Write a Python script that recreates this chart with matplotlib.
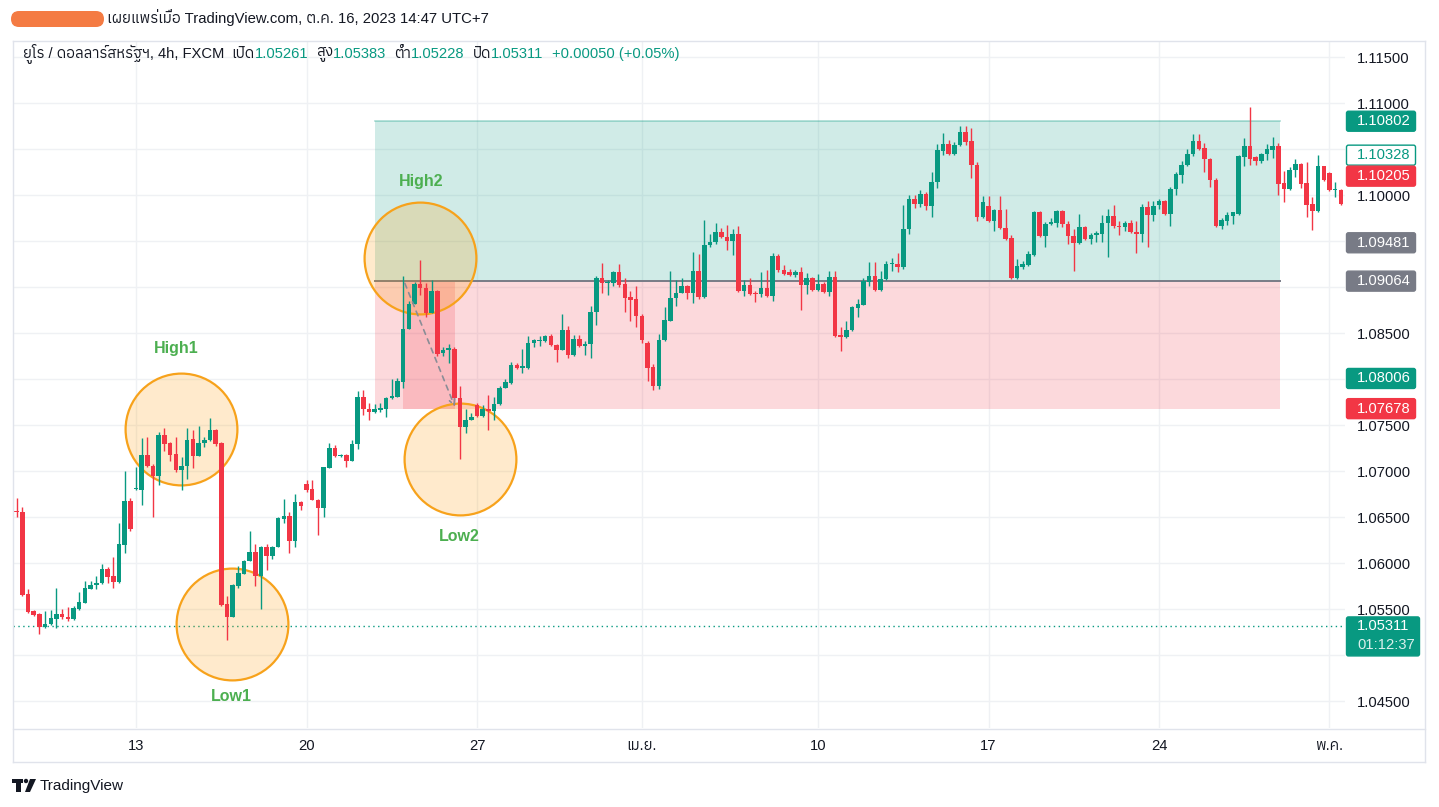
import numpy as np
import matplotlib
matplotlib.use("Agg")
import matplotlib.pyplot as plt
from matplotlib import font_manager as fm
from matplotlib.ft2font import FT2Font
from matplotlib.patches import Rectangle, FancyBboxPatch, Polygon, Circle
from matplotlib.transforms import IdentityTransform
from matplotlib.lines import Line2D

# ---------------- data (EUR/USD 4h, FXCM) ----------------
opens = [1.0656, 1.0656, 1.0566, 1.0548, 1.0545, 1.0530, 1.0534, 1.0539, 1.0545, 1.0541,
         1.0539, 1.0550, 1.0557, 1.0572, 1.0576, 1.0578, 1.0593, 1.0586, 1.0579, 1.0620,
         1.0667, 1.0680, 1.0679, 1.0717, 1.0706, 1.0695, 1.0739, 1.0730, 1.0718, 1.0701,
         1.0705, 1.0735, 1.0716, 1.0731, 1.0734, 1.0745, 1.0730, 1.0555, 1.0541, 1.0575,
         1.0588, 1.0602, 1.0612, 1.0586, 1.0617, 1.0608, 1.0617, 1.0648, 1.0651, 1.0624,
         1.0666, 1.0686, 1.0680, 1.0669, 1.0660, 1.0703, 1.0725, 1.0716, 1.0717, 1.0711,
         1.0729, 1.0781, 1.0767, 1.0764, 1.0766, 1.0767, 1.0779, 1.0781, 1.0797, 1.0854,
         1.0882, 1.0903, 1.0899, 1.0872, 1.0896, 1.0828, 1.0832, 1.0833, 1.0779, 1.0748,
         1.0756, 1.0772, 1.0760, 1.0767, 1.0765, 1.0773, 1.0790, 1.0796, 1.0815, 1.0812,
         1.0812, 1.0839, 1.0841, 1.0841, 1.0847, 1.0837, 1.0832, 1.0853, 1.0826, 1.0843,
         1.0836, 1.0838, 1.0873, 1.0910, 1.0904, 1.0904, 1.0916, 1.0903, 1.0889, 1.0887,
         1.0868, 1.0839, 1.0813, 1.0792, 1.0842, 1.0863, 1.0888, 1.0894, 1.0901, 1.0893,
         1.0917, 1.0889, 1.0946, 1.0949, 1.0960, 1.0954, 1.0950, 1.0958, 1.0896, 1.0902,
         1.0893, 1.0892, 1.0899, 1.0890, 1.0934, 1.0918, 1.0916, 1.0913, 1.0916, 1.0902,
         1.0910, 1.0897, 1.0903, 1.0895, 1.0911, 1.0848, 1.0846, 1.0853, 1.0877, 1.0881,
         1.0906, 1.0912, 1.0897, 1.0909, 1.0925, 1.0925, 1.0922, 1.0963, 1.0996, 1.0990,
         1.1001, 1.0988, 1.1014, 1.1048, 1.1055, 1.1045, 1.1054, 1.1068, 1.1059, 1.1033,
         1.0976, 1.0988, 1.0972, 1.0984, 1.0964, 1.0953, 1.0910, 1.0922, 1.0924, 1.0935,
         1.0981, 1.0955, 1.0969, 1.0970, 1.0983, 1.0968, 1.0955, 1.0948, 1.0965, 1.0952,
         1.0956, 1.0958, 1.0970, 1.0977, 1.0966, 1.0965, 1.0970, 1.0960, 1.0958, 1.0987,
         1.0978, 1.0989, 1.0994, 1.0979, 1.1007, 1.1022, 1.1033, 1.1045, 1.1059, 1.1051,
         1.1039, 1.1016, 1.0966, 1.0972, 1.0977, 1.0979, 1.1041, 1.1053, 1.1041, 1.1037,
         1.1045, 1.1049, 1.1053, 1.1013, 1.1007, 1.1027, 1.1034, 1.1013, 1.0990, 1.0983,
         1.1031, 1.1024, 1.1005, 1.1005]
highs = [1.0671, 1.0661, 1.0572, 1.0549, 1.0546, 1.0548, 1.0549, 1.0573, 1.0550, 1.0552,
         1.0553, 1.0569, 1.0580, 1.0581, 1.0586, 1.0599, 1.0596, 1.0607, 1.0643, 1.0700,
         1.0671, 1.0704, 1.0736, 1.0737, 1.0708, 1.0742, 1.0747, 1.0732, 1.0737, 1.0715,
         1.0747, 1.0745, 1.0749, 1.0737, 1.0758, 1.0746, 1.0732, 1.0564, 1.0577, 1.0597,
         1.0603, 1.0635, 1.0621, 1.0618, 1.0621, 1.0618, 1.0650, 1.0670, 1.0656, 1.0675,
         1.0667, 1.0690, 1.0690, 1.0670, 1.0704, 1.0731, 1.0728, 1.0718, 1.0718, 1.0734,
         1.0787, 1.0788, 1.0774, 1.0773, 1.0774, 1.0781, 1.0800, 1.0801, 1.0912, 1.0885,
         1.0906, 1.0929, 1.0904, 1.0908, 1.0897, 1.0835, 1.0838, 1.0835, 1.0792, 1.0767,
         1.0763, 1.0774, 1.0772, 1.0783, 1.0781, 1.0792, 1.0800, 1.0818, 1.0817, 1.0833,
         1.0847, 1.0844, 1.0847, 1.0848, 1.0849, 1.0838, 1.0871, 1.0858, 1.0848, 1.0848,
         1.0841, 1.0879, 1.0912, 1.0926, 1.0908, 1.0917, 1.0925, 1.0910, 1.0896, 1.0901,
         1.0871, 1.0841, 1.0816, 1.0849, 1.0878, 1.0917, 1.0908, 1.0910, 1.0902, 1.0938,
         1.0936, 1.0973, 1.0958, 1.0970, 1.0964, 1.0967, 1.0963, 1.0966, 1.0908, 1.0910,
         1.0896, 1.0916, 1.0918, 1.0937, 1.0936, 1.0924, 1.0920, 1.0919, 1.0922, 1.0915,
         1.0911, 1.0914, 1.0906, 1.0917, 1.0917, 1.0857, 1.0863, 1.0879, 1.0887, 1.0910,
         1.0927, 1.0927, 1.0917, 1.0928, 1.0931, 1.0937, 1.0989, 1.1000, 1.1000, 1.1005,
         1.1003, 1.1025, 1.1055, 1.1067, 1.1060, 1.1058, 1.1075, 1.1075, 1.1073, 1.1036,
         1.0999, 1.0999, 1.0985, 1.0999, 1.0985, 1.0957, 1.0930, 1.0928, 1.0939, 1.0983,
         1.0983, 1.0971, 1.0975, 1.0984, 1.0984, 1.0972, 1.0963, 1.0979, 1.0966, 1.0959,
         1.0961, 1.0978, 1.0985, 1.0989, 1.0972, 1.0972, 1.0973, 1.0972, 1.0990, 1.0993,
         1.0993, 1.0996, 1.0995, 1.1009, 1.1025, 1.1037, 1.1050, 1.1066, 1.1066, 1.1056,
         1.1040, 1.1018, 1.0975, 1.0982, 1.0982, 1.1043, 1.1062, 1.1096, 1.1042, 1.1046,
         1.1055, 1.1063, 1.1057, 1.1026, 1.1030, 1.1039, 1.1035, 1.1036, 1.0998, 1.1044,
         1.1032, 1.1025, 1.1014, 1.1006]
lows = [1.0650, 1.0564, 1.0546, 1.0542, 1.0523, 1.0529, 1.0533, 1.0529, 1.0539, 1.0537,
        1.0538, 1.0549, 1.0557, 1.0572, 1.0572, 1.0577, 1.0578, 1.0573, 1.0578, 1.0611,
        1.0635, 1.0679, 1.0663, 1.0704, 1.0650, 1.0685, 1.0722, 1.0711, 1.0699, 1.0679,
        1.0691, 1.0703, 1.0716, 1.0726, 1.0733, 1.0727, 1.0553, 1.0516, 1.0541, 1.0573,
        1.0588, 1.0602, 1.0575, 1.0550, 1.0592, 1.0604, 1.0617, 1.0644, 1.0611, 1.0617,
        1.0658, 1.0677, 1.0668, 1.0630, 1.0650, 1.0703, 1.0715, 1.0715, 1.0704, 1.0711,
        1.0724, 1.0761, 1.0756, 1.0763, 1.0764, 1.0759, 1.0778, 1.0781, 1.0790, 1.0854,
        1.0882, 1.0891, 1.0867, 1.0872, 1.0825, 1.0825, 1.0817, 1.0772, 1.0713, 1.0741,
        1.0755, 1.0759, 1.0759, 1.0745, 1.0755, 1.0772, 1.0790, 1.0795, 1.0811, 1.0807,
        1.0811, 1.0835, 1.0836, 1.0840, 1.0836, 1.0819, 1.0832, 1.0823, 1.0825, 1.0835,
        1.0826, 1.0823, 1.0859, 1.0893, 1.0891, 1.0901, 1.0900, 1.0873, 1.0863, 1.0857,
        1.0839, 1.0798, 1.0788, 1.0789, 1.0841, 1.0863, 1.0879, 1.0893, 1.0887, 1.0883,
        1.0887, 1.0888, 1.0944, 1.0947, 1.0953, 1.0940, 1.0935, 1.0895, 1.0890, 1.0891,
        1.0884, 1.0889, 1.0889, 1.0885, 1.0916, 1.0913, 1.0912, 1.0911, 1.0875, 1.0892,
        1.0896, 1.0896, 1.0894, 1.0890, 1.0846, 1.0831, 1.0845, 1.0852, 1.0867, 1.0880,
        1.0901, 1.0896, 1.0896, 1.0908, 1.0917, 1.0916, 1.0920, 1.0958, 1.0986, 1.0987,
        1.0984, 1.0976, 1.1008, 1.1044, 1.1044, 1.1044, 1.1053, 1.1054, 1.1018, 1.0972,
        1.0975, 1.0971, 1.0961, 1.0963, 1.0951, 1.0909, 1.0909, 1.0920, 1.0923, 1.0934,
        1.0954, 1.0943, 1.0967, 1.0965, 1.0965, 1.0947, 1.0917, 1.0947, 1.0951, 1.0947,
        1.0949, 1.0949, 1.0933, 1.0964, 1.0956, 1.0961, 1.0959, 1.0937, 1.0949, 1.0943,
        1.0972, 1.0985, 1.0978, 1.0966, 1.1000, 1.1013, 1.1032, 1.1042, 1.1049, 1.1025,
        1.1009, 1.0965, 1.0963, 1.0967, 1.0968, 1.0978, 1.1031, 1.1033, 1.1033, 1.1035,
        1.1038, 1.1040, 1.1000, 1.0992, 1.1005, 1.1020, 1.1008, 1.0976, 1.0962, 1.0982,
        1.1015, 1.1004, 1.0998, 1.0989]
closes = [1.0655, 1.0565, 1.0547, 1.0544, 1.0530, 1.0534, 1.0540, 1.0545, 1.0541, 1.0539,
          1.0551, 1.0558, 1.0573, 1.0576, 1.0578, 1.0593, 1.0585, 1.0579, 1.0621, 1.0667,
          1.0637, 1.0681, 1.0717, 1.0705, 1.0695, 1.0739, 1.0729, 1.0717, 1.0701, 1.0705,
          1.0734, 1.0716, 1.0731, 1.0734, 1.0745, 1.0729, 1.0554, 1.0541, 1.0576, 1.0589,
          1.0602, 1.0612, 1.0586, 1.0617, 1.0608, 1.0617, 1.0649, 1.0651, 1.0624, 1.0666,
          1.0662, 1.0679, 1.0669, 1.0660, 1.0704, 1.0725, 1.0716, 1.0717, 1.0711, 1.0729,
          1.0781, 1.0767, 1.0764, 1.0767, 1.0768, 1.0779, 1.0782, 1.0798, 1.0854, 1.0882,
          1.0903, 1.0899, 1.0872, 1.0896, 1.0827, 1.0832, 1.0834, 1.0779, 1.0748, 1.0756,
          1.0759, 1.0760, 1.0767, 1.0765, 1.0773, 1.0790, 1.0797, 1.0815, 1.0812, 1.0814,
          1.0839, 1.0842, 1.0842, 1.0847, 1.0837, 1.0832, 1.0853, 1.0826, 1.0843, 1.0836,
          1.0838, 1.0873, 1.0910, 1.0904, 1.0905, 1.0916, 1.0902, 1.0888, 1.0886, 1.0868,
          1.0842, 1.0812, 1.0792, 1.0842, 1.0864, 1.0888, 1.0894, 1.0901, 1.0893, 1.0917,
          1.0889, 1.0946, 1.0949, 1.0960, 1.0954, 1.0950, 1.0958, 1.0896, 1.0902, 1.0892,
          1.0892, 1.0899, 1.0890, 1.0934, 1.0918, 1.0914, 1.0913, 1.0916, 1.0902, 1.0910,
          1.0897, 1.0903, 1.0895, 1.0911, 1.0847, 1.0846, 1.0853, 1.0878, 1.0882, 1.0907,
          1.0912, 1.0897, 1.0909, 1.0925, 1.0926, 1.0922, 1.0963, 1.0996, 1.0990, 1.1001,
          1.0988, 1.1014, 1.1049, 1.1055, 1.1045, 1.1054, 1.1068, 1.1058, 1.1033, 1.0976,
          1.0992, 1.0972, 1.0984, 1.0964, 1.0952, 1.0910, 1.0923, 1.0925, 1.0936, 1.0981,
          1.0955, 1.0969, 1.0971, 1.0983, 1.0968, 1.0955, 1.0948, 1.0965, 1.0952, 1.0957,
          1.0959, 1.0970, 1.0977, 1.0966, 1.0965, 1.0970, 1.0960, 1.0958, 1.0987, 1.0978,
          1.0988, 1.0994, 1.0979, 1.1007, 1.1023, 1.1033, 1.1045, 1.1059, 1.1050, 1.1039,
          1.1016, 1.0966, 1.0973, 1.0978, 1.0981, 1.1042, 1.1053, 1.1039, 1.1037, 1.1045,
          1.1050, 1.1053, 1.1012, 1.1007, 1.1027, 1.1034, 1.1012, 1.0989, 1.0983, 1.1031,
          1.1016, 1.1005, 1.1006, 1.0990]

# time axis: bar index where each labelled day/month begins
date_tick_bars = [21, 51, 81, 110, 141, 171, 201, 231]
date_tick_labels = ["13", "20", "27", "เม.ย.", "10", "17", "24", "พ.ค."]
price_ticks = [1.045, 1.050, 1.055, 1.060, 1.065, 1.070, 1.075, 1.080, 1.085,
               1.090, 1.095, 1.100, 1.105, 1.110, 1.115]

# long-position tool
tp_price = 1.10802
entry_price = 1.09064
sl_price = 1.07678
last_price = 1.05311
countdown = "01:12:37"

# price-scale marks
mark_prices = [1.10802, 1.10328, 1.10205, 1.09481, 1.09064, 1.08006, 1.07678]
mark_colors = ["#089981", "#089981", "#f23645", "#787b86", "#787b86", "#089981", "#f23645"]
mark_filled = [True, False, True, True, True, True, True]

header_top = "เผยแพร่เมื่อ TradingView.com, ต.ค. 16, 2023 14:47 UTC+7"
symbol_text = "ยูโร / ดอลลาร์สหรัฐฯ, 4h, FXCM"
ohlc_names = ["เปิด", "สูง", "ต่ำ", "ปิด"]
ohlc_values = ["1.05261", "1.05383", "1.05228", "1.05311"]
change_text = "+0.00050 (+0.05%)"

# ---------------- fonts ----------------
def find_thai_family():
    cands = []
    seen = set()
    for f in fm.fontManager.ttflist:
        if f.fname in seen:
            continue
        seen.add(f.fname)
        try:
            cmap = FT2Font(f.fname).get_charmap()
        except Exception:
            continue
        if 0x0E40 in cmap and 0x0E22 in cmap and 0x0E48 in cmap:
            cands.append(f)
    if not cands:
        return None
    cands.sort(key=lambda f: (f.weight not in (400, "normal", "regular"),
                              f.style != "normal", "Thai" not in f.name))
    return cands[0].name

thai = find_thai_family()
FAM = ["Liberation Sans"] + ([thai] if thai else []) + ["DejaVu Sans"]
plt.rcParams["font.family"] = FAM

UP, DOWN = "#089981", "#f23645"
TXT = "#131722"
FS = 10.6
HFS = 10.65
W, H = 1439, 807

fig = plt.figure(figsize=(W / 100, H / 100), dpi=100)
fig.patch.set_facecolor("white")

# chart pane: x 13..1345, y 41..728 (pixels from top)
L, R, T, B = 13, 1345, 41, 728
ax = fig.add_axes([L / W, 1 - B / H, (R - L) / W, (B - T) / H])
ax.set_facecolor("white")
for s in ax.spines.values():
    s.set_visible(False)

n = len(closes)
idx = np.arange(n)
o = np.array(opens); c = np.array(closes); h = np.array(highs); lo = np.array(lows)
up = c >= o
cols = np.where(up, UP, DOWN)

ax.set_xlim(-0.65, 233.73)
ax.set_ylim(1.04207, 1.11674)
fig.canvas.draw()

def price_px(p):
    return ax.transData.transform((0, p))[1]   # pixels from bottom

# place price-scale marks (push apart when they collide, like the platform does)
order = np.argsort(mark_prices)
placed = {}
prev = -1e9
for i in order:
    yc = price_px(mark_prices[i])
    if yc < prev + 21:
        yc = prev + 21
    placed[i] = yc
    prev = yc
box_spans = [(placed[i] - 10, placed[i] + 10) for i in placed]
lp = price_px(last_price)
box_spans.append((lp - 29.5, lp + 9.5))

# tick labels hidden behind the price-scale boxes are not drawn
ylabels = []
for v in price_ticks:
    yp = price_px(v)
    hidden = any(a - 1 <= yp <= b + 1 for a, b in box_spans)
    ylabels.append("" if hidden else f"{v:.5f}")

# grid / ticks
ax.set_xticks(date_tick_bars)
ax.set_xticklabels(date_tick_labels, fontsize=FS, color=TXT)
ax.set_yticks(price_ticks)
ax.set_yticklabels(ylabels, fontsize=FS, color=TXT)
ax.yaxis.tick_right()
ax.tick_params(axis="x", length=0, pad=8)
ax.tick_params(axis="y", length=0, pad=8.6)
ax.grid(True, color="#eff1f4", lw=1.0, zorder=0)
ax.set_axisbelow(True)

# long position boxes
x0b, x1b = 63.05, 222.3
ax.add_patch(Rectangle((x0b, entry_price), x1b - x0b, tp_price - entry_price,
                       facecolor=(8/255, 153/255, 129/255, 0.19), edgecolor="none", zorder=1))
ax.add_patch(Rectangle((x0b, sl_price), x1b - x0b, entry_price - sl_price,
                       facecolor=(242/255, 54/255, 69/255, 0.19), edgecolor="none", zorder=1))
ax.add_patch(Rectangle((67.96, sl_price), 77.1 - 67.96, entry_price - sl_price,
                       facecolor=(242/255, 54/255, 69/255, 0.19), edgecolor="none", zorder=1))
ax.plot([x0b, x1b], [tp_price, tp_price], color=(8/255, 153/255, 129/255, 0.35), lw=1.2, zorder=1.5)
ax.plot([x0b, x1b], [entry_price, entry_price], color="#787b86", lw=1.4, zorder=1.5)

# last-price dotted line
ax.axhline(last_price, color=UP, lw=1.0, ls=(0, (1, 2.5)), zorder=2)

# circles (pixel-sized markers)
circ_x = [28.9, 37.9, 70.96, 78.0]
circ_y = [1.0746, 1.05337, 1.09315, 1.07131]
ax.plot(circ_x, circ_y, ls="none", marker="o", ms=80.5,
        mfc=(1.0, 0.6, 0.0, 0.2), mec="#f7a21b", mew=1.6, zorder=2)

# candles
ax.vlines(idx, lo, h, colors=cols, lw=1.0, zorder=3)
body_lo = np.minimum(o, c)
body_h = np.maximum(np.abs(c - o), 0.00011)
ax.bar(idx, body_h, bottom=body_lo, width=0.8, color=cols, linewidth=0, zorder=4)

# dashed arrow
ax.annotate("", xy=(77.1, 1.0770), xytext=(68.3, 1.0904),
            arrowprops=dict(arrowstyle="->", color="#8a8d96", lw=1.2, ls=(0, (3, 3)),
                            shrinkA=0, shrinkB=0, mutation_scale=10), zorder=6)

# labels
GREEN_TXT = "#4caf50"
for txt, xx, yy in [("High1", 28.0, 1.08337), ("Low1", 37.7, 1.04554),
                    ("High2", 71.1, 1.10152), ("Low2", 77.8, 1.06293)]:
    ax.text(xx, yy, txt, color=GREEN_TXT, fontsize=11.5, fontweight="bold",
            ha="center", va="center", zorder=7)

# ---------------- frame lines ----------------
def fl(xs, ys, color="#e0e3eb", lw=1.0):
    fig.add_artist(Line2D([x / W for x in xs], [1 - y / H for y in ys],
                          color=color, lw=lw, transform=fig.transFigure))

fl([13, 1425], [41, 41])
fl([13, 1425], [762, 762])
fl([13, 13], [41, 762])
fl([1425, 1425], [41, 762])
fl([13, 1425], [728.5, 728.5])

# ---------------- price scale marks ----------------
for i in range(len(mark_prices)):
    yc = placed[i]
    col = mark_colors[i]
    if mark_filled[i]:
        fc, ec, tc = col, col, "white"
    else:
        fc, ec, tc = "white", col, col
    fig.add_artist(FancyBboxPatch((1346.5, yc - 10), 69, 20,
                                  boxstyle="round,pad=0,rounding_size=2",
                                  facecolor=fc, edgecolor=ec, lw=1.0,
                                  transform=IdentityTransform(), zorder=5))
    fig.text(1357 / W, yc / H, f"{mark_prices[i]:.5f}", color=tc, fontsize=FS,
             ha="left", va="center", zorder=6)

fig.add_artist(FancyBboxPatch((1346.5, lp - 29.5), 73, 39,
                              boxstyle="round,pad=0,rounding_size=2",
                              facecolor=UP, edgecolor=UP, lw=1.0,
                              transform=IdentityTransform(), zorder=5))
fig.text(1357 / W, lp / H, f"{last_price:.5f}", color="white", fontsize=FS,
         ha="left", va="center", zorder=6)
fig.text(1357 / W, (lp - 19) / H, countdown, color=(1, 1, 1, 0.85), fontsize=FS,
         ha="left", va="center", zorder=6)

# ---------------- header ----------------
fig.add_artist(FancyBboxPatch((11, H - 27), 93, 16,
                              boxstyle="round,pad=0,rounding_size=8",
                              facecolor="#f47b43", edgecolor="none",
                              transform=IdentityTransform()))
fig.text(107 / W, 1 - 18 / H, header_top, color=TXT, fontsize=10.7, ha="left", va="center")

renderer = fig.canvas.get_renderer()
xcur = 23
def put(txt, color, gap_after):
    global xcur
    t = fig.text(xcur / W, 1 - 54 / H, txt, color=color, fontsize=HFS, ha="left", va="center")
    bb = t.get_window_extent(renderer=renderer)
    xcur = xcur + bb.width + gap_after

put(symbol_text, TXT, 7)
for nm, val in zip(ohlc_names, ohlc_values):
    put(nm, TXT, 0)
    put(val, UP, 8)
put(change_text, UP, 0)

# ---------------- footer logo ----------------
fig.add_artist(Rectangle((12, H - 783), 11, 4, facecolor=TXT, transform=IdentityTransform()))
fig.add_artist(Rectangle((16, H - 792), 5, 13, facecolor=TXT, transform=IdentityTransform()))
fig.add_artist(Circle((26, H - 781), 2.2, facecolor=TXT, transform=IdentityTransform()))
fig.add_artist(Polygon([(30, H - 779), (36, H - 779), (30, H - 792), (25, H - 792)],
                       closed=True, facecolor=TXT, transform=IdentityTransform()))
fig.text(40 / W, 1 - 786 / H, "TradingView", color=TXT, fontsize=11, ha="left", va="center")

fig.savefig("out.png", dpi=100, facecolor="white")
